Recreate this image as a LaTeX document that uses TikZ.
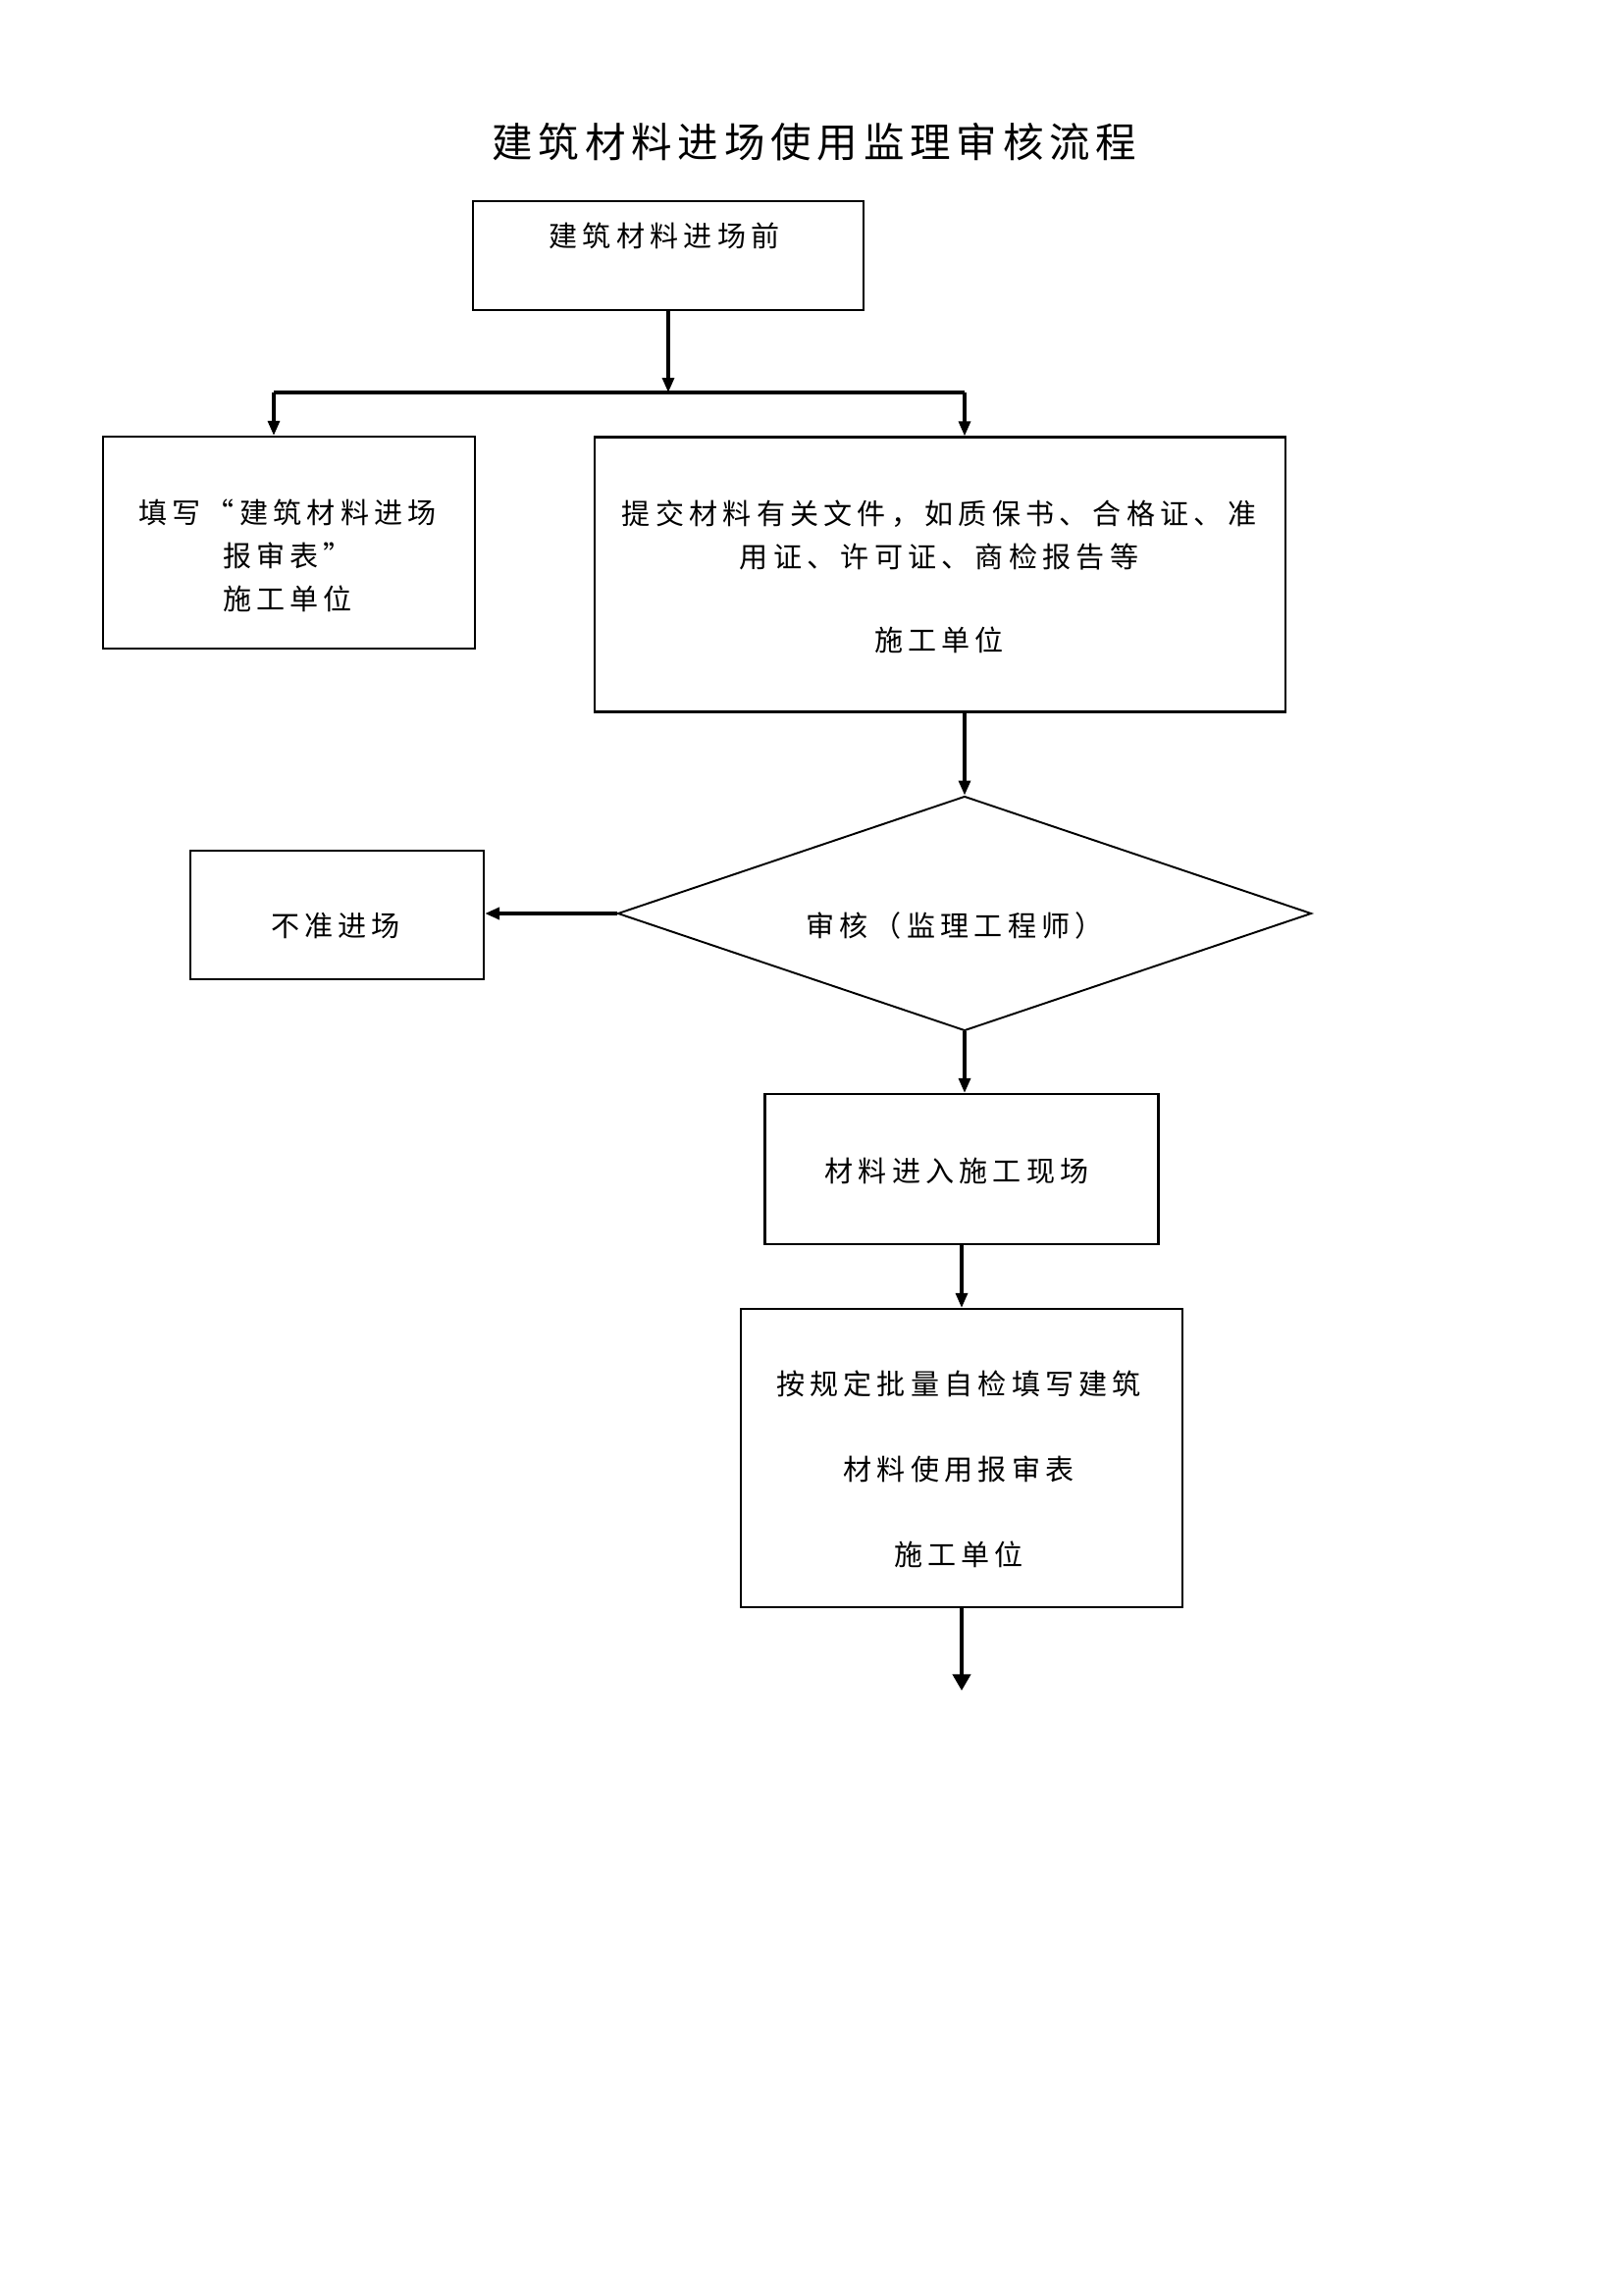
\documentclass[tikz,border=0pt]{standalone}
\usepackage{fontspec}
\setmainfont{Noto Sans CJK SC}[LetterSpace=18]
\newfontfamily\titlefont{Noto Sans CJK SC}[LetterSpace=14]
\usetikzlibrary{arrows.meta,shapes.geometric}

\newdimen\pxu
\pxu=0.127mm

\tikzset{
  box/.style = {draw, line width = .8pt, inner sep = 0pt},
  decision/.style = {draw, diamond, line width = .7pt, inner sep = 0pt},
  txt/.style = {font = \fontsize{10.5}{15.9}\selectfont, align = center,
    inner sep = 0pt},
  arr/.style = {line width = 1.2pt, -{Triangle[length = 5.4pt, width = 4.3pt]}},
  bigarr/.style = {line width = 1.4pt, -{Triangle[length = 6pt, width = 6.5pt]}}
}

\begin{document}
\begin{tikzpicture}[x = 0.127mm, y = -0.127mm]
  \useasboundingbox (0, 0) rectangle (1654, 2339);

  \node[font = \titlefont\fontsize{15}{18}\selectfont, inner sep = 0pt] (title)
  at (830, 145) {建筑材料进场使用监理审核流程};

  \node[box, minimum width = 398\pxu, minimum height = 111\pxu] (start) at (681, 260.5) {};
  \node[txt] (startText) at (677, 240) {建筑材料进场前};

  \coordinate (split) at (681, 400);
  \coordinate (splitL) at (279, 400);
  \coordinate (splitR) at (983, 400);

  \node[box, minimum width = 379\pxu, minimum height = 216\pxu] (fill) at (294.5, 553) {};
  \node[txt] (fillText) at (293, 566) {填写“建筑材料进场\\报审表”\\施工单位};

  \node[box, minimum width = 704\pxu, minimum height = 280\pxu] (submit) at (958, 585.5) {};
  \node[txt] (submitText) at (957, 587.5)
  {提交材料有关文件，如质保书、合格证、准\\用证、许可证、商检报告等\\[14.8pt]施工单位};

  \node[decision, minimum width = 707\pxu, minimum height = 239\pxu] (check) at (983, 931) {};
  \node[txt] (checkText) at (973, 943) {审核（监理工程师）};

  \node[box, minimum width = 299\pxu, minimum height = 131\pxu] (reject) at (343.5, 932.5) {};
  \node[txt] (rejectText) at (342, 944) {不准进场};

  \node[box, minimum width = 401\pxu, minimum height = 153\pxu] (enter) at (980, 1191.5) {};
  \node[txt] (enterText) at (975, 1193) {材料进入施工现场};

  \node[box, minimum width = 450\pxu, minimum height = 304\pxu] (self) at (980, 1486) {};
  \node[txt, font = \fontsize{10.5}{31.4}\selectfont] (selfText) at (977, 1497.7)
  {按规定批量自检填写建筑\\材料使用报审表\\施工单位};

  \coordinate (out) at (980, 1723);

  % connectors
  \draw[arr] (start) -- (split);
  \draw[line width = 1.2pt] (splitL) -- (splitR);
  \draw[arr] (splitL) -- (splitL |- fill.north);
  \draw[arr] (splitR) -- (splitR |- submit.north);
  \draw[arr] (check.north |- submit.south) -- (check.north);
  \draw[arr, line width = 1.8pt] (check.west) -- (check.west -| reject.east);
  \draw[arr] (check.south) -- (check.south |- enter.north);
  \draw[arr] (enter.south) -- (self.north);
  \draw[bigarr] (self.south) -- (out);
\end{tikzpicture}
\end{document}
